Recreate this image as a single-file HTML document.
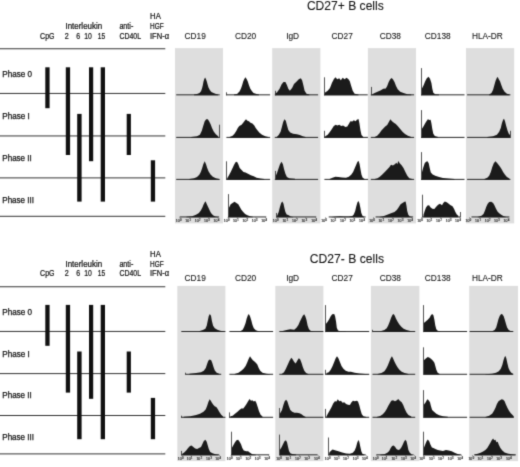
<!DOCTYPE html>
<html><head><meta charset="utf-8"><title>Figure</title>
<style>
html,body{margin:0;padding:0;background:#fff;}
body{width:520px;height:467px;overflow:hidden;font-family:"Liberation Sans",sans-serif;}
svg{display:block;}
svg text{font-family:"Liberation Sans",sans-serif;}
</style></head><body>
<svg width="520" height="467" viewBox="0 0 520 467">
<defs><filter id="soft" x="0" y="0" width="520" height="467" filterUnits="userSpaceOnUse" color-interpolation-filters="sRGB"><feConvolveMatrix order="3" kernelMatrix="0.0196 0.1008 0.0196 0.1008 0.5184 0.1008 0.0196 0.1008 0.0196" edgeMode="duplicate" preserveAlpha="true"/></filter></defs>
<g filter="url(#soft)">
<rect x="0" y="0" width="520" height="467" fill="#fff"/>
<g fill="#dedede">
<rect x="175.0" y="48.1" width="48.0" height="175.3"/>
<rect x="272.2" y="48.1" width="48.2" height="175.3"/>
<rect x="367.9" y="48.1" width="48.1" height="175.3"/>
<rect x="466.0" y="48.1" width="48.2" height="175.3"/>
<rect x="177.3" y="285.9" width="48.1" height="175.2"/>
<rect x="275.3" y="285.9" width="48.1" height="175.2"/>
<rect x="370.9" y="285.9" width="48.5" height="175.2"/>
<rect x="469.2" y="285.9" width="48.8" height="175.2"/>
</g>
<g stroke="#333333" stroke-width="1" fill="none"><line x1="0" y1="48.75" x2="165.3" y2="48.75"/><line x1="0" y1="93.45" x2="165.3" y2="93.45"/><line x1="0" y1="135.95" x2="165.3" y2="135.95"/><line x1="0" y1="177.90" x2="165.3" y2="177.90"/><line x1="0" y1="216.30" x2="165.3" y2="216.30"/></g>
<g fill="#111"><rect x="45.3" y="67.3" width="4.3" height="40.9"/><rect x="65.8" y="67.3" width="4.3" height="87.7"/><rect x="77.2" y="113.9" width="4.4" height="87.7"/><rect x="89.0" y="67.3" width="4.2" height="93.9"/><rect x="100.7" y="67.3" width="4.3" height="134.3"/><rect x="126.7" y="113.9" width="4.2" height="41.1"/><rect x="150.8" y="160.3" width="4.3" height="41.3"/></g>
<g font-size="8.4" fill="#111" stroke="#111" stroke-width="0.25"><text x="2.3" y="77.1" textLength="29.7" lengthAdjust="spacingAndGlyphs">Phase 0</text><text x="2.3" y="119.4" textLength="27.4" lengthAdjust="spacingAndGlyphs">Phase I</text><text x="2.3" y="160.5" textLength="29.5" lengthAdjust="spacingAndGlyphs">Phase II</text><text x="2.3" y="202.8" textLength="31.7" lengthAdjust="spacingAndGlyphs">Phase III</text></g>
<g font-size="8.0" fill="#111" stroke="#111" stroke-width="0.22"><text x="40.1" y="38.8" font-size="8.7" textLength="14.4" lengthAdjust="spacingAndGlyphs">CpG</text><text x="65.5" y="28.9" font-size="8.4" textLength="36.6" lengthAdjust="spacingAndGlyphs">Interleukin</text><text x="64.7" y="38.8" font-size="8.7" textLength="4.0" lengthAdjust="spacingAndGlyphs">2</text><text x="76.2" y="38.8" font-size="8.7" textLength="3.9" lengthAdjust="spacingAndGlyphs">6</text><text x="84.2" y="38.8" font-size="8.7" textLength="7.6" lengthAdjust="spacingAndGlyphs">10</text><text x="97.7" y="38.8" font-size="8.7" textLength="7.4" lengthAdjust="spacingAndGlyphs">15</text><text x="119.4" y="28.9" font-size="8.4" textLength="13.9" lengthAdjust="spacingAndGlyphs">anti-</text><text x="119.4" y="38.8" font-size="8.7" textLength="21.6" lengthAdjust="spacingAndGlyphs">CD40L</text><text x="150.1" y="19.2" font-size="8.4" textLength="10.7" lengthAdjust="spacingAndGlyphs">HA</text><text x="150.0" y="29.1" font-size="8.4" textLength="13.6" lengthAdjust="spacingAndGlyphs">HGF</text><text x="150.0" y="38.8" font-size="8.7" textLength="19.1" lengthAdjust="spacingAndGlyphs">IFN-α</text></g>
<g stroke="#333333" stroke-width="1" fill="none"><line x1="0" y1="286.75" x2="165.3" y2="286.75"/><line x1="0" y1="331.45" x2="165.3" y2="331.45"/><line x1="0" y1="373.60" x2="165.3" y2="373.60"/><line x1="0" y1="415.50" x2="165.3" y2="415.50"/><line x1="0" y1="453.90" x2="165.3" y2="453.90"/></g>
<g fill="#111"><rect x="45.3" y="304.9" width="4.3" height="40.9"/><rect x="65.8" y="304.9" width="4.3" height="87.7"/><rect x="77.2" y="351.5" width="4.4" height="87.7"/><rect x="89.0" y="304.9" width="4.2" height="93.9"/><rect x="100.7" y="304.9" width="4.3" height="134.3"/><rect x="126.7" y="351.5" width="4.2" height="41.1"/><rect x="150.8" y="397.9" width="4.3" height="41.3"/></g>
<g font-size="8.4" fill="#111" stroke="#111" stroke-width="0.25"><text x="2.3" y="314.7" textLength="29.7" lengthAdjust="spacingAndGlyphs">Phase 0</text><text x="2.3" y="357.0" textLength="27.4" lengthAdjust="spacingAndGlyphs">Phase I</text><text x="2.3" y="398.1" textLength="29.5" lengthAdjust="spacingAndGlyphs">Phase II</text><text x="2.3" y="440.4" textLength="31.7" lengthAdjust="spacingAndGlyphs">Phase III</text></g>
<g font-size="8.0" fill="#111" stroke="#111" stroke-width="0.22"><text x="40.1" y="276.4" font-size="8.7" textLength="14.4" lengthAdjust="spacingAndGlyphs">CpG</text><text x="65.5" y="266.5" font-size="8.4" textLength="36.6" lengthAdjust="spacingAndGlyphs">Interleukin</text><text x="64.7" y="276.4" font-size="8.7" textLength="4.0" lengthAdjust="spacingAndGlyphs">2</text><text x="76.2" y="276.4" font-size="8.7" textLength="3.9" lengthAdjust="spacingAndGlyphs">6</text><text x="84.2" y="276.4" font-size="8.7" textLength="7.6" lengthAdjust="spacingAndGlyphs">10</text><text x="97.7" y="276.4" font-size="8.7" textLength="7.4" lengthAdjust="spacingAndGlyphs">15</text><text x="119.4" y="266.5" font-size="8.4" textLength="13.9" lengthAdjust="spacingAndGlyphs">anti-</text><text x="119.4" y="276.4" font-size="8.7" textLength="21.6" lengthAdjust="spacingAndGlyphs">CD40L</text><text x="150.1" y="256.8" font-size="8.4" textLength="10.7" lengthAdjust="spacingAndGlyphs">HA</text><text x="150.0" y="266.7" font-size="8.4" textLength="13.6" lengthAdjust="spacingAndGlyphs">HGF</text><text x="150.0" y="276.4" font-size="8.7" textLength="19.1" lengthAdjust="spacingAndGlyphs">IFN-α</text></g>
<g font-size="12" fill="#111" stroke="#111" stroke-width="0.08"><text x="306.9" y="10.3" textLength="76.9" lengthAdjust="spacingAndGlyphs">CD27+ B cells</text><text x="309.8" y="262.8" textLength="74.2" lengthAdjust="spacingAndGlyphs">CD27- B cells</text></g>
<g font-size="8.3" fill="#111" stroke="#111" stroke-width="0.08"><text x="184.6" y="39.1">CD19</text><text x="235.0" y="39.1">CD20</text><text x="286.2" y="39.1">IgD</text><text x="331.6" y="39.1">CD27</text><text x="379.7" y="39.1">CD38</text><text x="424.8" y="39.1">CD138</text><text x="471.9" y="39.1">HLA-DR</text><text x="184.6" y="280.5">CD19</text><text x="235.0" y="280.5">CD20</text><text x="286.2" y="280.5">IgD</text><text x="331.6" y="280.5">CD27</text><text x="379.7" y="280.5">CD38</text><text x="424.8" y="280.5">CD138</text><text x="471.9" y="280.5">HLA-DR</text></g>
<g fill="#1b1b1b" stroke="none">
<rect x="176.20" y="94.40" width="43.50" height="0.9" fill="#111"/><polygon points="194.00,95.20 194.00,94.60 197.00,94.10 199.50,93.10 201.00,91.20 202.00,88.60 202.80,85.20 203.50,81.60 204.30,78.90 205.10,77.50 205.90,78.90 206.80,81.60 207.60,84.60 208.50,87.60 209.80,90.10 211.40,91.90 213.50,93.10 216.00,94.10 218.00,94.60 218.00,95.20"/>
<rect x="226.40" y="94.40" width="43.70" height="0.9" fill="#111"/><polygon points="234.00,95.20 234.00,94.60 237.00,93.90 239.50,91.60 241.00,88.60 242.20,85.10 243.20,81.60 244.30,78.90 245.50,77.20 246.60,78.90 247.80,81.60 248.90,85.10 250.20,88.60 251.80,91.10 253.50,92.90 256.50,94.10 259.00,94.60 259.00,95.20"/><rect x="226.10" y="92.30" width="0.8" height="3.10" fill="#2a2a2a"/>
<rect x="274.80" y="94.40" width="43.30" height="0.9" fill="#111"/><polygon points="275.40,95.20 275.40,92.70 276.70,92.70 279.60,88.80 281.50,84.60 283.50,82.10 285.40,82.10 286.90,85.00 288.30,88.80 289.80,90.80 292.10,87.90 294.00,84.00 296.90,81.20 298.80,79.20 300.80,78.30 302.10,80.20 303.30,85.00 304.60,90.80 306.50,93.70 309.40,94.60 309.40,95.20"/><rect x="275.10" y="90.80" width="0.8" height="4.60" fill="#2a2a2a"/>
<rect x="324.00" y="94.40" width="43.70" height="0.9" fill="#111"/><polygon points="324.80,95.20 324.80,92.70 327.70,90.80 330.00,87.90 331.90,83.10 333.80,79.20 335.40,77.30 337.30,79.20 339.20,78.30 340.80,80.20 342.70,77.70 344.60,79.20 346.50,77.70 348.50,79.20 349.80,81.20 351.20,86.00 352.70,90.80 354.60,93.70 358.50,94.60 358.50,95.20"/><rect x="324.10" y="77.30" width="0.8" height="18.10" fill="#2a2a2a"/>
<rect x="370.80" y="94.40" width="43.30" height="0.9" fill="#111"/><polygon points="372.20,95.20 372.20,94.20 374.70,93.10 377.50,91.70 380.40,90.40 383.30,88.80 385.80,88.50 387.20,86.00 388.70,82.10 390.20,79.20 391.60,77.90 392.90,79.20 394.50,82.10 396.00,86.00 397.70,89.20 400.20,91.70 403.50,93.10 407.30,94.20 411.20,94.60 411.20,95.20"/><rect x="371.10" y="86.90" width="0.8" height="8.50" fill="#2a2a2a"/>
<rect x="421.00" y="94.40" width="43.50" height="0.9" fill="#111"/><polygon points="421.85,95.20 421.85,88.80 423.70,85.00 425.20,81.20 426.80,78.30 428.50,76.70 430.00,78.70 431.40,83.10 432.30,88.80 433.30,92.70 435.20,94.20 439.00,94.60 439.00,95.20"/><rect x="421.10" y="68.10" width="0.8" height="27.30" fill="#2a2a2a"/>
<rect x="467.10" y="94.40" width="43.30" height="0.9" fill="#111"/><polygon points="489.20,95.20 489.20,94.60 491.50,93.10 493.10,89.80 494.40,85.00 495.60,80.80 496.90,77.70 497.70,76.90 498.80,79.20 500.00,81.20 501.30,85.00 502.70,88.80 504.60,91.70 506.90,93.70 509.40,94.60 509.40,95.20"/>
<rect x="176.20" y="136.90" width="43.50" height="0.9" fill="#111"/><polygon points="191.20,137.70 191.20,137.00 197.00,136.20 199.90,134.70 201.80,130.80 203.20,126.00 204.70,121.20 206.20,119.30 207.80,119.30 209.10,121.20 210.50,124.10 212.00,128.00 213.70,131.40 215.80,134.30 218.20,136.20 218.20,137.70"/><rect x="219.10" y="124.70" width="0.8" height="13.20" fill="#2a2a2a"/>
<rect x="226.40" y="136.90" width="43.70" height="0.9" fill="#111"/><polygon points="229.70,137.70 229.70,137.00 232.60,135.70 234.50,133.70 236.40,130.80 237.80,128.00 239.30,126.00 241.60,124.70 243.20,122.80 244.70,120.80 246.00,119.30 247.40,120.80 248.90,121.20 250.50,122.80 252.40,123.50 254.30,125.50 255.70,128.00 257.60,130.50 259.50,132.80 262.00,134.70 265.30,136.20 268.20,137.00 268.20,137.70"/>
<rect x="274.80" y="136.90" width="43.30" height="0.9" fill="#111"/><polygon points="276.70,137.70 276.70,137.00 278.70,135.10 280.60,131.80 281.90,127.00 283.10,122.20 284.40,119.30 285.80,120.80 286.90,125.10 288.30,129.90 290.20,132.40 293.10,133.70 296.90,134.30 299.80,135.10 302.70,136.20 305.60,137.00 305.60,137.70"/>
<rect x="324.00" y="136.90" width="43.90" height="0.9" fill="#111"/><polygon points="325.20,137.70 325.20,136.20 327.70,134.70 330.00,131.80 331.90,128.90 333.80,126.00 335.80,124.70 337.30,125.50 339.20,124.70 341.20,126.00 343.10,125.50 345.40,127.00 347.30,126.60 348.80,124.10 350.40,121.20 352.30,121.60 353.80,120.30 355.60,121.20 356.90,119.70 358.50,118.90 359.40,123.20 360.40,129.90 361.50,135.10 363.30,137.00 363.30,137.70"/><rect x="324.10" y="130.80" width="0.8" height="7.10" fill="#2a2a2a"/>
<rect x="370.80" y="136.90" width="43.30" height="0.9" fill="#111"/><polygon points="374.70,137.70 374.70,137.00 377.20,135.70 379.50,133.20 381.40,130.50 383.30,128.50 385.20,126.60 387.20,125.10 388.70,122.20 390.40,119.30 392.00,121.20 393.90,122.80 395.80,124.10 397.70,126.00 400.20,128.90 402.50,131.80 405.00,134.10 407.90,135.80 411.20,137.00 411.20,137.70"/>
<rect x="421.00" y="136.90" width="43.50" height="0.9" fill="#111"/><polygon points="421.85,137.70 421.85,128.90 423.70,126.00 425.20,123.20 426.80,120.70 427.90,119.30 429.50,119.90 430.60,119.70 431.40,123.20 432.30,128.90 433.30,133.70 434.80,136.00 438.10,137.00 438.10,137.70"/><rect x="421.10" y="110.10" width="0.8" height="27.80" fill="#2a2a2a"/>
<rect x="467.10" y="136.90" width="43.30" height="0.9" fill="#111"/><polygon points="487.30,137.70 487.30,137.00 493.10,136.20 496.90,134.70 499.20,131.80 500.80,128.00 501.90,123.20 503.10,119.70 504.00,118.70 505.00,121.20 506.20,126.00 507.50,130.50 508.80,133.70 510.00,135.10 510.00,137.70"/><rect x="510.10" y="130.80" width="0.8" height="7.10" fill="#2a2a2a"/>
<rect x="176.20" y="178.90" width="43.50" height="0.9" fill="#111"/><polygon points="189.30,179.70 189.30,179.00 194.10,178.20 197.00,177.10 199.30,174.80 200.80,171.90 202.20,168.00 203.30,164.20 204.70,161.30 206.00,164.20 207.20,168.00 208.50,171.30 210.50,174.40 212.80,176.70 215.80,178.20 219.10,179.00 219.10,179.70"/>
<rect x="226.40" y="178.90" width="43.70" height="0.9" fill="#111"/><polygon points="227.20,179.70 227.20,178.20 228.70,175.70 230.70,171.90 232.60,168.00 234.10,164.80 235.50,162.30 237.00,161.70 238.30,164.20 239.70,168.00 241.60,169.90 243.50,171.90 245.50,172.50 248.00,173.80 250.80,175.20 253.70,176.30 256.60,177.70 260.50,178.60 264.30,179.00 264.30,179.70"/><rect x="226.10" y="161.30" width="0.8" height="18.60" fill="#2a2a2a"/>
<rect x="274.80" y="178.90" width="43.30" height="0.9" fill="#111"/><polygon points="275.85,179.70 275.85,175.70 277.10,172.80 278.70,168.00 280.00,164.20 281.50,161.70 282.90,164.20 284.00,169.00 285.40,173.80 286.90,177.10 289.20,178.20 295.00,178.80 295.00,179.70"/><rect x="275.10" y="170.90" width="0.8" height="9.00" fill="#2a2a2a"/>
<rect x="324.40" y="178.90" width="43.70" height="0.9" fill="#111"/><polygon points="329.60,179.70 329.60,179.00 332.50,177.80 335.40,176.70 338.30,177.10 342.10,177.50 346.00,177.70 348.80,176.70 351.20,174.80 353.10,171.90 354.60,168.60 356.20,164.80 357.50,161.70 358.70,160.90 359.60,164.20 360.60,170.00 361.50,174.80 362.70,177.70 364.60,179.00 364.60,179.70"/>
<rect x="370.80" y="178.90" width="43.30" height="0.9" fill="#111"/><polygon points="374.70,179.70 374.70,179.00 377.50,178.20 379.80,176.70 382.30,174.40 384.80,171.90 387.20,169.40 389.50,167.10 391.00,164.80 392.90,165.50 394.80,164.20 396.40,162.80 397.30,164.20 398.30,160.90 399.70,163.20 401.60,165.20 403.50,168.00 405.40,171.90 407.30,175.70 409.30,178.20 412.20,179.00 412.20,179.70"/>
<rect x="421.00" y="178.90" width="43.50" height="0.9" fill="#111"/><polygon points="421.85,179.70 421.85,172.80 423.10,168.00 424.70,163.20 426.00,161.70 427.50,161.30 428.70,163.20 429.70,168.00 430.80,172.50 432.70,174.40 435.20,175.70 439.10,177.10 442.90,178.00 448.70,178.60 454.50,179.00 454.50,179.70"/><rect x="421.10" y="152.10" width="0.8" height="27.80" fill="#2a2a2a"/>
<rect x="467.10" y="178.90" width="43.30" height="0.9" fill="#111"/><polygon points="484.40,179.70 484.40,179.00 487.30,177.80 489.20,175.70 490.80,171.90 492.30,167.10 493.80,163.20 495.40,161.30 496.90,162.80 498.50,164.80 500.00,166.70 501.50,169.00 503.10,171.90 505.00,174.80 506.90,177.10 509.40,178.60 509.40,179.70"/>
<rect x="179.70" y="216.50" width="39.40" height="0.9" fill="#111"/><polygon points="186.40,217.30 186.40,216.80 192.20,216.20 196.00,214.80 198.90,212.90 200.80,210.60 202.40,207.50 203.70,204.30 205.10,201.80 205.70,201.40 206.60,203.70 208.00,206.80 209.50,210.00 211.00,212.90 213.00,215.20 215.30,216.40 218.20,217.00 218.20,217.30"/>
<rect x="228.00" y="216.50" width="38.20" height="0.9" fill="#111"/><polygon points="228.85,217.30 228.85,208.10 230.70,204.30 232.60,202.90 234.50,201.80 236.40,202.90 238.30,204.30 239.70,206.80 241.20,209.50 243.20,212.00 245.10,213.90 247.40,215.20 249.90,216.20 252.80,216.80 252.80,217.30"/><rect x="228.10" y="194.10" width="0.8" height="23.40" fill="#2a2a2a"/>
<rect x="276.30" y="216.50" width="39.90" height="0.9" fill="#111"/><polygon points="277.10,217.30 277.10,215.80 278.70,212.00 280.00,206.80 281.20,202.90 282.30,201.40 283.50,203.70 284.40,208.10 285.40,212.00 286.70,214.50 288.70,215.20 290.60,216.40 293.10,217.00 293.10,217.30"/><rect x="276.10" y="212.90" width="0.8" height="4.60" fill="#2a2a2a"/>
<rect x="328.70" y="216.50" width="36.90" height="0.9" fill="#111"/><polygon points="331.50,217.30 331.50,217.00 336.30,216.40 340.20,216.20 344.00,216.40 348.80,216.60 352.30,216.00 353.80,214.50 355.20,211.00 356.30,206.20 357.50,202.30 358.50,201.00 359.40,203.30 360.40,208.10 361.30,212.90 362.50,215.80 364.20,217.00 364.20,217.30"/>
<rect x="375.60" y="216.50" width="37.50" height="0.9" fill="#111"/><polygon points="379.50,217.30 379.50,217.00 383.30,216.20 387.20,214.80 391.00,213.30 394.50,212.00 396.80,210.00 398.70,207.20 400.60,204.30 402.50,202.90 404.50,201.80 405.60,201.40 406.40,205.20 407.20,211.00 408.30,214.80 409.80,216.40 412.20,217.00 412.20,217.30"/>
<rect x="422.50" y="216.50" width="37.70" height="0.9" fill="#111"/><polygon points="423.50,217.30 423.50,214.80 424.70,211.00 426.00,207.50 427.50,205.60 429.10,205.20 430.40,207.20 432.30,208.70 434.30,209.10 436.20,206.80 438.10,204.80 440.00,203.70 442.00,205.20 443.30,202.90 444.80,201.40 446.70,202.30 448.70,203.70 450.60,205.20 452.50,206.20 454.00,208.70 455.40,212.00 456.80,214.50 458.30,215.80 458.30,217.30"/><rect x="422.10" y="194.70" width="0.8" height="22.80" fill="#2a2a2a"/><rect x="460.10" y="212.00" width="0.8" height="5.50" fill="#2a2a2a"/>
<rect x="471.50" y="216.50" width="37.90" height="0.9" fill="#111"/><polygon points="477.70,217.30 477.70,217.00 481.50,215.80 483.50,213.90 485.00,210.60 486.30,206.80 487.70,203.70 489.20,202.00 491.20,201.80 493.10,202.90 494.40,205.20 496.00,208.70 497.50,211.40 499.20,213.30 501.20,214.80 503.70,216.20 506.50,217.00 506.50,217.30"/>
<rect x="181.30" y="331.10" width="44.10" height="0.9" fill="#111"/><polygon points="199.00,331.90 199.00,331.20 202.90,330.10 205.40,328.70 206.70,325.80 207.70,321.00 208.70,316.20 209.80,313.90 211.00,315.80 211.90,321.00 213.10,325.80 214.80,328.20 217.30,329.70 220.20,330.70 223.10,331.20 223.10,331.90"/>
<rect x="229.40" y="331.10" width="43.70" height="0.9" fill="#111"/><polygon points="240.40,331.90 240.40,331.20 242.70,329.70 244.20,326.80 245.60,323.00 246.70,318.50 247.90,315.30 248.80,313.90 250.00,316.20 251.20,320.10 252.50,324.90 253.80,328.20 255.80,330.30 258.70,331.20 258.70,331.90"/>
<rect x="279.30" y="331.10" width="44.10" height="0.9" fill="#111"/><polygon points="281.70,331.90 281.70,331.20 286.50,330.10 290.30,329.30 294.20,329.70 296.50,327.80 298.40,324.90 299.90,321.60 301.50,318.20 302.80,315.80 304.20,314.30 305.30,316.20 306.50,320.10 307.60,325.50 309.00,329.30 310.90,331.00 313.40,331.40 313.40,331.90"/>
<rect x="325.50" y="331.10" width="43.70" height="0.9" fill="#111"/><polygon points="325.85,331.90 325.85,323.90 327.80,321.60 329.30,319.10 330.70,316.20 332.20,314.30 334.20,313.90 335.10,316.20 336.10,322.00 336.80,327.80 338.00,330.50 340.30,331.20 346.10,331.60 346.10,331.90"/><rect x="325.10" y="305.10" width="0.8" height="27.00" fill="#2a2a2a"/>
<rect x="372.50" y="331.10" width="42.70" height="0.9" fill="#111"/><polygon points="380.50,331.90 380.50,331.20 384.40,330.10 386.70,328.20 388.20,325.50 389.80,321.60 391.10,317.80 392.50,314.70 393.60,313.90 394.80,315.80 395.90,318.50 397.50,321.60 399.20,324.30 401.30,326.80 403.60,328.70 406.50,330.10 410.30,331.00 410.30,331.90"/><rect x="372.10" y="329.80" width="0.8" height="2.30" fill="#2a2a2a"/>
<rect x="423.60" y="331.10" width="43.50" height="0.9" fill="#111"/><polygon points="423.85,331.90 423.85,323.00 425.70,321.60 427.70,319.70 429.60,317.80 430.90,315.30 432.10,313.90 433.40,315.30 434.40,319.70 435.30,325.50 436.30,329.30 437.70,330.80 440.20,331.40 440.20,331.90"/><rect x="423.10" y="305.10" width="0.8" height="27.00" fill="#2a2a2a"/>
<rect x="469.60" y="331.10" width="43.70" height="0.9" fill="#111"/><polygon points="492.10,331.90 492.10,331.20 494.60,330.10 496.20,327.40 497.30,323.50 498.50,319.10 499.80,315.80 501.20,313.90 502.30,314.30 503.70,316.20 504.80,319.70 506.00,323.90 507.10,327.40 508.50,329.70 510.40,331.00 512.30,331.40 512.30,331.90"/>
<rect x="185.60" y="373.80" width="35.60" height="0.9" fill="#111"/><polygon points="189.40,374.60 189.40,373.80 196.20,373.10 201.00,372.30 203.80,370.80 205.80,367.90 207.10,364.00 208.30,360.80 209.60,359.60 211.20,360.20 212.30,363.10 213.50,366.90 214.80,370.40 216.70,372.70 219.20,373.80 219.20,374.60"/><rect x="185.10" y="372.70" width="0.8" height="2.10" fill="#2a2a2a"/>
<rect x="229.40" y="373.80" width="43.70" height="0.9" fill="#111"/><polygon points="234.60,374.60 234.60,374.00 238.50,372.70 241.30,370.80 243.80,368.50 245.60,366.00 247.10,362.70 248.50,359.20 250.00,356.30 251.30,358.30 252.90,360.20 254.20,361.20 255.80,362.70 257.30,364.60 258.70,367.90 260.20,370.80 262.50,372.70 266.30,373.80 270.20,374.20 270.20,374.60"/>
<rect x="279.30" y="373.80" width="44.10" height="0.9" fill="#111"/><polygon points="281.70,374.60 281.70,374.00 284.00,372.30 285.90,368.80 287.80,364.60 289.50,360.80 291.30,357.70 292.60,359.20 294.20,362.10 295.70,363.50 297.20,360.80 298.80,358.30 300.10,359.20 301.50,362.70 302.80,366.90 304.30,370.80 306.10,373.10 308.60,374.20 308.60,374.60"/>
<rect x="325.50" y="373.80" width="43.70" height="0.9" fill="#111"/><polygon points="326.50,374.60 326.50,373.10 328.80,372.30 330.70,369.80 332.60,366.00 334.20,362.10 335.70,358.30 337.00,356.30 338.40,358.30 339.90,362.10 341.50,366.00 343.40,368.80 345.70,370.80 348.40,371.70 350.90,371.70 354.70,372.70 359.50,373.50 365.30,374.00 369.20,374.20 369.20,374.60"/><rect x="325.10" y="369.80" width="0.8" height="5.00" fill="#2a2a2a"/>
<rect x="372.50" y="373.80" width="42.70" height="0.9" fill="#111"/><polygon points="377.70,374.60 377.70,374.00 381.50,373.10 384.40,371.20 386.30,368.50 387.80,365.40 389.40,361.50 390.70,358.30 391.90,356.30 393.00,358.30 394.40,361.50 395.90,364.60 397.50,367.30 399.40,369.80 401.70,371.70 404.60,373.10 408.40,374.00 408.40,374.60"/>
<rect x="423.60" y="373.80" width="43.50" height="0.9" fill="#111"/><polygon points="423.85,374.60 423.85,360.20 426.10,358.30 427.80,356.90 429.60,357.70 431.50,359.20 433.00,360.80 434.40,362.70 435.30,366.00 436.30,369.80 437.70,372.70 439.60,374.00 439.60,374.60"/><rect x="423.10" y="347.30" width="0.8" height="27.50" fill="#2a2a2a"/>
<rect x="469.60" y="373.80" width="43.70" height="0.9" fill="#111"/><polygon points="485.40,374.60 485.40,374.20 492.10,373.70 496.00,372.70 498.80,371.20 500.80,368.80 502.30,365.00 503.50,360.20 504.60,356.90 505.40,356.00 506.30,358.30 507.30,363.10 508.50,367.90 509.80,370.80 511.30,372.70 512.90,373.80 512.90,374.60"/>
<rect x="181.30" y="416.80" width="44.10" height="0.9" fill="#111"/><polygon points="183.70,417.60 183.70,416.80 190.40,416.20 196.20,415.10 200.00,413.70 203.50,411.80 205.80,409.30 207.10,406.00 208.30,402.20 209.60,399.30 210.80,400.80 211.90,402.80 213.50,405.10 215.00,406.60 216.30,407.00 217.70,408.90 219.20,411.80 221.20,414.70 223.10,416.60 223.10,417.60"/><rect x="181.10" y="415.70" width="0.8" height="2.10" fill="#2a2a2a"/>
<rect x="229.40" y="416.80" width="43.70" height="0.9" fill="#111"/><polygon points="230.40,417.60 230.40,416.20 232.70,415.70 235.00,413.70 237.50,411.80 239.40,409.90 241.30,408.50 243.30,408.50 244.80,406.60 246.50,404.10 248.10,401.20 249.60,398.90 251.00,400.80 252.30,400.30 253.80,401.60 255.20,400.80 256.30,402.80 257.70,407.00 259.00,411.20 260.60,414.70 262.50,416.60 262.50,417.60"/><rect x="229.10" y="412.40" width="0.8" height="5.40" fill="#2a2a2a"/>
<rect x="279.30" y="416.80" width="44.10" height="0.9" fill="#111"/><polygon points="279.85,417.60 279.85,413.70 282.00,409.90 283.40,405.10 284.70,401.20 286.10,399.70 287.40,401.60 288.80,406.00 290.30,409.90 292.20,411.80 294.50,412.80 297.00,412.80 299.50,413.20 301.50,414.30 303.40,415.80 305.70,417.00 305.70,417.60"/><rect x="279.10" y="408.00" width="0.8" height="9.80" fill="#2a2a2a"/>
<rect x="325.50" y="416.80" width="43.70" height="0.9" fill="#111"/><polygon points="326.50,417.60 326.50,416.20 327.80,413.70 329.70,410.50 331.60,407.00 333.20,403.50 334.90,401.20 336.50,401.60 337.80,399.30 339.30,401.20 340.90,400.80 342.60,402.80 344.20,402.20 346.10,404.10 348.00,404.70 349.90,405.10 351.50,402.20 353.00,400.80 354.70,401.20 356.70,400.80 358.00,401.60 359.20,405.10 360.50,409.90 361.80,414.30 363.40,416.20 366.30,417.00 366.30,417.60"/><rect x="325.10" y="408.90" width="0.8" height="8.90" fill="#2a2a2a"/>
<rect x="372.50" y="416.80" width="42.70" height="0.9" fill="#111"/><polygon points="376.70,417.60 376.70,417.00 380.20,416.00 382.80,414.30 385.00,411.80 386.70,408.90 388.20,406.00 389.80,403.20 391.30,400.80 393.00,400.30 395.00,401.20 396.90,400.30 398.20,398.90 399.80,400.80 401.70,402.20 403.20,405.10 404.80,408.90 406.50,412.40 408.40,415.10 411.30,416.60 411.30,417.60"/>
<rect x="423.60" y="416.80" width="43.50" height="0.9" fill="#111"/><polygon points="423.85,417.60 423.85,404.70 425.70,402.20 427.30,399.30 428.60,400.30 430.00,402.20 430.90,406.00 432.10,409.90 434.00,411.80 436.30,413.70 439.20,415.30 443.00,416.20 447.80,416.80 447.80,417.60"/><rect x="423.10" y="390.10" width="0.8" height="27.70" fill="#2a2a2a"/>
<rect x="469.60" y="416.80" width="44.20" height="0.9" fill="#111"/><polygon points="485.40,417.60 485.40,417.00 489.20,415.80 492.10,413.70 494.00,410.80 495.60,407.40 496.90,404.10 498.50,401.20 500.00,400.30 501.70,399.30 503.30,399.70 504.60,401.20 506.00,404.70 507.50,408.00 509.00,410.80 510.80,413.20 512.30,414.70 513.70,416.20 513.70,417.60"/>
<rect x="181.30" y="454.40" width="37.90" height="0.9" fill="#111"/><polygon points="182.30,455.20 182.30,453.80 184.20,452.50 186.20,450.50 188.10,448.00 190.00,446.10 191.50,445.50 193.30,447.10 195.20,448.60 197.10,449.00 199.00,448.00 201.00,447.10 202.30,444.20 203.80,440.90 205.40,439.80 206.70,441.70 207.70,445.20 208.80,449.00 210.20,451.90 212.50,453.20 215.40,454.20 218.30,454.80 218.30,455.20"/><rect x="181.10" y="450.90" width="0.8" height="4.50" fill="#2a2a2a"/>
<rect x="231.00" y="454.40" width="38.20" height="0.9" fill="#111"/><polygon points="231.85,455.20 231.85,448.00 233.30,445.20 235.00,442.30 236.50,440.30 238.10,439.80 239.60,441.70 241.00,444.20 242.30,448.00 243.80,450.50 246.20,451.30 248.10,451.30 250.00,452.80 252.30,454.20 255.80,454.80 255.80,455.20"/><rect x="231.10" y="431.70" width="0.8" height="23.70" fill="#2a2a2a"/>
<rect x="279.50" y="454.40" width="38.10" height="0.9" fill="#111"/><polygon points="279.85,455.20 279.85,450.00 281.70,447.10 283.00,444.20 284.50,441.30 285.90,440.30 287.00,442.30 288.00,446.70 289.00,450.90 290.30,453.20 292.20,454.00 296.10,454.60 296.10,455.20"/><rect x="279.10" y="434.60" width="0.8" height="20.80" fill="#2a2a2a"/>
<rect x="328.40" y="454.40" width="37.30" height="0.9" fill="#111"/><polygon points="329.20,455.20 329.20,452.80 330.70,450.90 332.60,449.60 334.90,450.30 338.40,451.30 342.20,452.50 346.10,453.40 349.90,453.80 352.80,452.80 354.70,450.50 356.10,447.10 357.20,442.80 358.40,440.00 359.30,441.70 360.30,446.70 361.30,451.30 362.40,453.80 364.30,454.80 364.30,455.20"/><rect x="328.10" y="437.50" width="0.8" height="17.90" fill="#2a2a2a"/>
<rect x="376.30" y="454.40" width="37.30" height="0.9" fill="#111"/><polygon points="380.50,455.20 380.50,454.80 384.40,454.20 387.30,452.80 389.20,450.90 390.70,448.00 392.10,446.10 393.60,445.50 395.00,446.70 396.50,449.00 398.20,450.00 399.80,449.40 401.30,447.50 402.70,444.80 404.00,441.70 405.30,439.80 406.50,441.30 407.50,445.50 408.40,450.00 409.80,452.80 411.70,454.40 411.70,455.20"/>
<rect x="423.40" y="454.40" width="37.90" height="0.9" fill="#111"/><polygon points="423.85,455.20 423.85,448.00 425.30,444.20 426.70,440.90 427.80,439.40 429.20,441.30 430.50,444.80 431.90,447.50 433.40,448.00 435.30,449.00 437.80,450.00 440.20,450.50 443.00,450.90 445.90,450.00 448.80,450.50 451.70,451.30 454.60,452.80 457.50,454.00 460.30,454.80 460.30,455.20"/><rect x="423.10" y="431.70" width="0.8" height="23.70" fill="#2a2a2a"/>
<rect x="474.20" y="454.40" width="41.60" height="0.9" fill="#111"/><polygon points="474.80,455.20 474.80,454.40 477.70,453.80 480.60,452.80 483.10,451.50 485.40,450.00 487.30,448.00 488.80,445.50 490.40,442.80 491.70,440.30 493.10,438.40 494.20,440.30 495.40,439.80 496.50,442.30 497.70,441.70 498.80,444.80 500.40,448.00 502.30,450.50 504.60,452.50 507.50,453.40 511.30,454.20 515.20,454.80 515.20,455.20"/>
</g>
<g fill="#333" font-size="3.5" stroke="#333" stroke-width="0.18">
<text x="175.70" y="222.00">10<tspan dy="-1.3" dx="0.4" font-size="2.6">0</tspan></text><rect x="179.60" y="217.30" width="0.6" height="1.1" fill="#555" stroke="none"/><text x="185.20" y="222.00">10<tspan dy="-1.3" dx="0.4" font-size="2.6">1</tspan></text><rect x="189.10" y="217.30" width="0.6" height="1.1" fill="#555" stroke="none"/><text x="194.80" y="222.00">10<tspan dy="-1.3" dx="0.4" font-size="2.6">2</tspan></text><rect x="198.70" y="217.30" width="0.6" height="1.1" fill="#555" stroke="none"/><text x="204.00" y="222.00">10<tspan dy="-1.3" dx="0.4" font-size="2.6">3</tspan></text><rect x="207.90" y="217.30" width="0.6" height="1.1" fill="#555" stroke="none"/><text x="213.60" y="222.00">10<tspan dy="-1.3" dx="0.4" font-size="2.6">4</tspan></text><rect x="217.50" y="217.30" width="0.6" height="1.1" fill="#555" stroke="none"/>
<text x="223.80" y="222.00">10<tspan dy="-1.3" dx="0.4" font-size="2.6">0</tspan></text><rect x="227.70" y="217.30" width="0.6" height="1.1" fill="#555" stroke="none"/><text x="232.90" y="222.00">10<tspan dy="-1.3" dx="0.4" font-size="2.6">1</tspan></text><rect x="236.80" y="217.30" width="0.6" height="1.1" fill="#555" stroke="none"/><text x="242.50" y="222.00">10<tspan dy="-1.3" dx="0.4" font-size="2.6">2</tspan></text><rect x="246.40" y="217.30" width="0.6" height="1.1" fill="#555" stroke="none"/><text x="251.70" y="222.00">10<tspan dy="-1.3" dx="0.4" font-size="2.6">3</tspan></text><rect x="255.60" y="217.30" width="0.6" height="1.1" fill="#555" stroke="none"/><text x="261.30" y="222.00">10<tspan dy="-1.3" dx="0.4" font-size="2.6">4</tspan></text><rect x="265.20" y="217.30" width="0.6" height="1.1" fill="#555" stroke="none"/>
<text x="272.80" y="222.00">10<tspan dy="-1.3" dx="0.4" font-size="2.6">0</tspan></text><rect x="276.70" y="217.30" width="0.6" height="1.1" fill="#555" stroke="none"/><text x="282.40" y="222.00">10<tspan dy="-1.3" dx="0.4" font-size="2.6">1</tspan></text><rect x="286.30" y="217.30" width="0.6" height="1.1" fill="#555" stroke="none"/><text x="292.00" y="222.00">10<tspan dy="-1.3" dx="0.4" font-size="2.6">2</tspan></text><rect x="295.90" y="217.30" width="0.6" height="1.1" fill="#555" stroke="none"/><text x="301.40" y="222.00">10<tspan dy="-1.3" dx="0.4" font-size="2.6">3</tspan></text><rect x="305.30" y="217.30" width="0.6" height="1.1" fill="#555" stroke="none"/><text x="311.20" y="222.00">10<tspan dy="-1.3" dx="0.4" font-size="2.6">4</tspan></text><rect x="315.10" y="217.30" width="0.6" height="1.1" fill="#555" stroke="none"/>
<text x="321.20" y="222.00">10<tspan dy="-1.3" dx="0.4" font-size="2.6">0</tspan></text><rect x="325.10" y="217.30" width="0.6" height="1.1" fill="#555" stroke="none"/><text x="330.50" y="222.00">10<tspan dy="-1.3" dx="0.4" font-size="2.6">1</tspan></text><rect x="334.40" y="217.30" width="0.6" height="1.1" fill="#555" stroke="none"/><text x="340.10" y="222.00">10<tspan dy="-1.3" dx="0.4" font-size="2.6">2</tspan></text><rect x="344.00" y="217.30" width="0.6" height="1.1" fill="#555" stroke="none"/><text x="349.50" y="222.00">10<tspan dy="-1.3" dx="0.4" font-size="2.6">3</tspan></text><rect x="353.40" y="217.30" width="0.6" height="1.1" fill="#555" stroke="none"/><text x="359.10" y="222.00">10<tspan dy="-1.3" dx="0.4" font-size="2.6">4</tspan></text><rect x="363.00" y="217.30" width="0.6" height="1.1" fill="#555" stroke="none"/>
<text x="369.20" y="222.00">10<tspan dy="-1.3" dx="0.4" font-size="2.6">0</tspan></text><rect x="373.10" y="217.30" width="0.6" height="1.1" fill="#555" stroke="none"/><text x="378.40" y="222.00">10<tspan dy="-1.3" dx="0.4" font-size="2.6">1</tspan></text><rect x="382.30" y="217.30" width="0.6" height="1.1" fill="#555" stroke="none"/><text x="388.00" y="222.00">10<tspan dy="-1.3" dx="0.4" font-size="2.6">2</tspan></text><rect x="391.90" y="217.30" width="0.6" height="1.1" fill="#555" stroke="none"/><text x="397.60" y="222.00">10<tspan dy="-1.3" dx="0.4" font-size="2.6">3</tspan></text><rect x="401.50" y="217.30" width="0.6" height="1.1" fill="#555" stroke="none"/><text x="407.20" y="222.00">10<tspan dy="-1.3" dx="0.4" font-size="2.6">4</tspan></text><rect x="411.10" y="217.30" width="0.6" height="1.1" fill="#555" stroke="none"/>
<text x="417.20" y="222.00">10<tspan dy="-1.3" dx="0.4" font-size="2.6">0</tspan></text><rect x="421.10" y="217.30" width="0.6" height="1.1" fill="#555" stroke="none"/><text x="426.50" y="222.00">10<tspan dy="-1.3" dx="0.4" font-size="2.6">1</tspan></text><rect x="430.40" y="217.30" width="0.6" height="1.1" fill="#555" stroke="none"/><text x="436.10" y="222.00">10<tspan dy="-1.3" dx="0.4" font-size="2.6">2</tspan></text><rect x="440.00" y="217.30" width="0.6" height="1.1" fill="#555" stroke="none"/><text x="445.70" y="222.00">10<tspan dy="-1.3" dx="0.4" font-size="2.6">3</tspan></text><rect x="449.60" y="217.30" width="0.6" height="1.1" fill="#555" stroke="none"/><text x="455.10" y="222.00">10<tspan dy="-1.3" dx="0.4" font-size="2.6">4</tspan></text><rect x="459.00" y="217.30" width="0.6" height="1.1" fill="#555" stroke="none"/>
<text x="465.50" y="222.00">10<tspan dy="-1.3" dx="0.4" font-size="2.6">0</tspan></text><rect x="469.40" y="217.30" width="0.6" height="1.1" fill="#555" stroke="none"/><text x="475.10" y="222.00">10<tspan dy="-1.3" dx="0.4" font-size="2.6">1</tspan></text><rect x="479.00" y="217.30" width="0.6" height="1.1" fill="#555" stroke="none"/><text x="484.70" y="222.00">10<tspan dy="-1.3" dx="0.4" font-size="2.6">2</tspan></text><rect x="488.60" y="217.30" width="0.6" height="1.1" fill="#555" stroke="none"/><text x="493.90" y="222.00">10<tspan dy="-1.3" dx="0.4" font-size="2.6">3</tspan></text><rect x="497.80" y="217.30" width="0.6" height="1.1" fill="#555" stroke="none"/><text x="503.60" y="222.00">10<tspan dy="-1.3" dx="0.4" font-size="2.6">4</tspan></text><rect x="507.50" y="217.30" width="0.6" height="1.1" fill="#555" stroke="none"/>
<text x="177.80" y="459.90">10<tspan dy="-1.3" dx="0.4" font-size="2.6">0</tspan></text><rect x="181.70" y="455.20" width="0.6" height="1.1" fill="#555" stroke="none"/><text x="186.80" y="459.90">10<tspan dy="-1.3" dx="0.4" font-size="2.6">1</tspan></text><rect x="190.70" y="455.20" width="0.6" height="1.1" fill="#555" stroke="none"/><text x="196.40" y="459.90">10<tspan dy="-1.3" dx="0.4" font-size="2.6">2</tspan></text><rect x="200.30" y="455.20" width="0.6" height="1.1" fill="#555" stroke="none"/><text x="206.10" y="459.90">10<tspan dy="-1.3" dx="0.4" font-size="2.6">3</tspan></text><rect x="210.00" y="455.20" width="0.6" height="1.1" fill="#555" stroke="none"/><text x="215.30" y="459.90">10<tspan dy="-1.3" dx="0.4" font-size="2.6">4</tspan></text><rect x="219.20" y="455.20" width="0.6" height="1.1" fill="#555" stroke="none"/>
<text x="226.80" y="459.90">10<tspan dy="-1.3" dx="0.4" font-size="2.6">0</tspan></text><rect x="230.70" y="455.20" width="0.6" height="1.1" fill="#555" stroke="none"/><text x="235.90" y="459.90">10<tspan dy="-1.3" dx="0.4" font-size="2.6">1</tspan></text><rect x="239.80" y="455.20" width="0.6" height="1.1" fill="#555" stroke="none"/><text x="245.50" y="459.90">10<tspan dy="-1.3" dx="0.4" font-size="2.6">2</tspan></text><rect x="249.40" y="455.20" width="0.6" height="1.1" fill="#555" stroke="none"/><text x="254.70" y="459.90">10<tspan dy="-1.3" dx="0.4" font-size="2.6">3</tspan></text><rect x="258.60" y="455.20" width="0.6" height="1.1" fill="#555" stroke="none"/><text x="264.30" y="459.90">10<tspan dy="-1.3" dx="0.4" font-size="2.6">4</tspan></text><rect x="268.20" y="455.20" width="0.6" height="1.1" fill="#555" stroke="none"/>
<text x="276.20" y="459.90">10<tspan dy="-1.3" dx="0.4" font-size="2.6">0</tspan></text><rect x="280.10" y="455.20" width="0.6" height="1.1" fill="#555" stroke="none"/><text x="285.40" y="459.90">10<tspan dy="-1.3" dx="0.4" font-size="2.6">1</tspan></text><rect x="289.30" y="455.20" width="0.6" height="1.1" fill="#555" stroke="none"/><text x="295.00" y="459.90">10<tspan dy="-1.3" dx="0.4" font-size="2.6">2</tspan></text><rect x="298.90" y="455.20" width="0.6" height="1.1" fill="#555" stroke="none"/><text x="304.20" y="459.90">10<tspan dy="-1.3" dx="0.4" font-size="2.6">3</tspan></text><rect x="308.10" y="455.20" width="0.6" height="1.1" fill="#555" stroke="none"/><text x="313.90" y="459.90">10<tspan dy="-1.3" dx="0.4" font-size="2.6">4</tspan></text><rect x="317.80" y="455.20" width="0.6" height="1.1" fill="#555" stroke="none"/>
<text x="324.80" y="459.90">10<tspan dy="-1.3" dx="0.4" font-size="2.6">0</tspan></text><rect x="328.70" y="455.20" width="0.6" height="1.1" fill="#555" stroke="none"/><text x="333.90" y="459.90">10<tspan dy="-1.3" dx="0.4" font-size="2.6">1</tspan></text><rect x="337.80" y="455.20" width="0.6" height="1.1" fill="#555" stroke="none"/><text x="343.10" y="459.90">10<tspan dy="-1.3" dx="0.4" font-size="2.6">2</tspan></text><rect x="347.00" y="455.20" width="0.6" height="1.1" fill="#555" stroke="none"/><text x="352.70" y="459.90">10<tspan dy="-1.3" dx="0.4" font-size="2.6">3</tspan></text><rect x="356.60" y="455.20" width="0.6" height="1.1" fill="#555" stroke="none"/><text x="361.90" y="459.90">10<tspan dy="-1.3" dx="0.4" font-size="2.6">4</tspan></text><rect x="365.80" y="455.20" width="0.6" height="1.1" fill="#555" stroke="none"/>
<text x="372.70" y="459.90">10<tspan dy="-1.3" dx="0.4" font-size="2.6">0</tspan></text><rect x="376.60" y="455.20" width="0.6" height="1.1" fill="#555" stroke="none"/><text x="381.80" y="459.90">10<tspan dy="-1.3" dx="0.4" font-size="2.6">1</tspan></text><rect x="385.70" y="455.20" width="0.6" height="1.1" fill="#555" stroke="none"/><text x="391.40" y="459.90">10<tspan dy="-1.3" dx="0.4" font-size="2.6">2</tspan></text><rect x="395.30" y="455.20" width="0.6" height="1.1" fill="#555" stroke="none"/><text x="401.00" y="459.90">10<tspan dy="-1.3" dx="0.4" font-size="2.6">3</tspan></text><rect x="404.90" y="455.20" width="0.6" height="1.1" fill="#555" stroke="none"/><text x="410.20" y="459.90">10<tspan dy="-1.3" dx="0.4" font-size="2.6">4</tspan></text><rect x="414.10" y="455.20" width="0.6" height="1.1" fill="#555" stroke="none"/>
<text x="419.30" y="459.90">10<tspan dy="-1.3" dx="0.4" font-size="2.6">0</tspan></text><rect x="423.20" y="455.20" width="0.6" height="1.1" fill="#555" stroke="none"/><text x="428.90" y="459.90">10<tspan dy="-1.3" dx="0.4" font-size="2.6">1</tspan></text><rect x="432.80" y="455.20" width="0.6" height="1.1" fill="#555" stroke="none"/><text x="438.10" y="459.90">10<tspan dy="-1.3" dx="0.4" font-size="2.6">2</tspan></text><rect x="442.00" y="455.20" width="0.6" height="1.1" fill="#555" stroke="none"/><text x="447.70" y="459.90">10<tspan dy="-1.3" dx="0.4" font-size="2.6">3</tspan></text><rect x="451.60" y="455.20" width="0.6" height="1.1" fill="#555" stroke="none"/><text x="457.20" y="459.90">10<tspan dy="-1.3" dx="0.4" font-size="2.6">4</tspan></text><rect x="461.10" y="455.20" width="0.6" height="1.1" fill="#555" stroke="none"/>
<text x="468.40" y="459.90">10<tspan dy="-1.3" dx="0.4" font-size="2.6">0</tspan></text><rect x="472.30" y="455.20" width="0.6" height="1.1" fill="#555" stroke="none"/><text x="477.60" y="459.90">10<tspan dy="-1.3" dx="0.4" font-size="2.6">1</tspan></text><rect x="481.50" y="455.20" width="0.6" height="1.1" fill="#555" stroke="none"/><text x="487.00" y="459.90">10<tspan dy="-1.3" dx="0.4" font-size="2.6">2</tspan></text><rect x="490.90" y="455.20" width="0.6" height="1.1" fill="#555" stroke="none"/><text x="496.20" y="459.90">10<tspan dy="-1.3" dx="0.4" font-size="2.6">3</tspan></text><rect x="500.10" y="455.20" width="0.6" height="1.1" fill="#555" stroke="none"/><text x="505.90" y="459.90">10<tspan dy="-1.3" dx="0.4" font-size="2.6">4</tspan></text><rect x="509.80" y="455.20" width="0.6" height="1.1" fill="#555" stroke="none"/>
</g>
</g>
</svg>
</body></html>
